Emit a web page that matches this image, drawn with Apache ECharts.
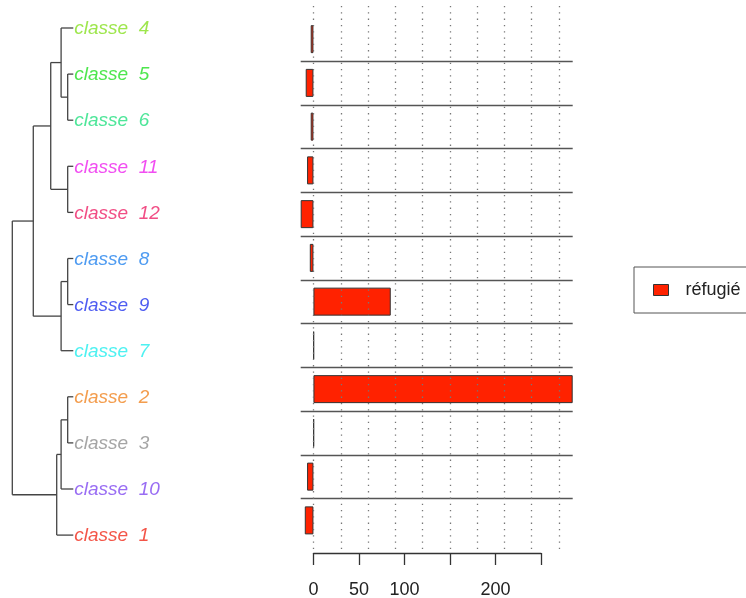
<!DOCTYPE html>
<html><head><meta charset="utf-8">
<script src="https://cdn.jsdelivr.net/npm/echarts@6/dist/echarts.min.js"></script>
<style>html,body{margin:0;padding:0;background:#fff}#c{width:746px;height:598px}</style>
</head><body><div id="c"></div>
<script>
// Leaves in display order (top to bottom)
const leafNames = ['classe  4','classe  5','classe  6','classe  11','classe  12','classe  8','classe  9','classe  7','classe  2','classe  3','classe  10','classe  1'];
const leafColors = ['#86E020','#22E022','#22E080','#EE22EE','#EE2266','#2282EE','#2233EE','#22EEEE','#F08422','#8E8E8E','#8048F0','#F02A1A'];
// hclust-like merges: negative = leaf (display index+1), positive = earlier merge (1-based), then height
const mergeA = [-2, -1, -4, 2, -6, 5, 4, -9, 8, 9, 7];
const mergeB = [-3,  1, -5, 3, -7, -8, 6, -10, -11, -12, 10];
const mergeHeight = [0.092, 0.20, 0.092, 0.37, 0.092, 0.20, 0.656, 0.092, 0.20, 0.272, 1.0];
// Bar values (same order as leaves)
const barCategories = leafNames;
const refugieValues = [-3, -8.5, -3, -7, -14, -4, 85, 0.5, 285, 0.5, -7, -9.5];
const axisLabelsShown = [0, 50, 100, 200];

function buildSegments() {
  const nodeH = [], nodeY = [], segs = [];
  const pos = r => r < 0 ? {h: 0, y: -r - 1} : {h: nodeH[r - 1], y: nodeY[r - 1]};
  mergeA.forEach((a, k) => {
    const b = mergeB[k], h = mergeHeight[k];
    const A = pos(a), B = pos(b);
    segs.push([h, A.y, h, B.y]);
    segs.push([A.h, A.y, h, A.y]);
    segs.push([B.h, B.y, h, B.y]);
    nodeH[k] = h; nodeY[k] = (A.y + B.y) / 2;
  });
  return segs;
}

const FONT = '"Liberation Sans", Arial, Helvetica, sans-serif';
const chart = echarts.init(document.getElementById('c'));
chart.setOption({
  animation: false,
  backgroundColor: '#fff',
  textStyle: {fontFamily: FONT},
  legend: {
    data: [{name: 'réfugié', icon: 'rect'}], orient: 'vertical', left: 634, top: 267,
    borderColor: '#555', borderWidth: 1, borderRadius: 0,
    padding: [14, 40, 14, 19], itemWidth: 15, itemHeight: 11,
    textStyle: {fontSize: 18, color: '#222', fontFamily: FONT, padding: [0, 0, 0, 12]},
    itemStyle: {color: '#FF2200', borderColor: '#333', borderWidth: 1}
  },
  grid: [
    {left: 12.3, top: 28, width: 61, height: 507.1, outerBoundsMode: 'none'},
    {left: 300.7, top: 17.25, width: 272, height: 525, outerBoundsMode: 'none'},
    {left: 313.5, top: 6, width: 245.5, height: 547, outerBoundsMode: 'none'},
    {left: 313.5, top: 6, width: 227.5, height: 547, outerBoundsMode: 'none'}
  ],
  xAxis: [
    {gridIndex: 0, type: 'value', inverse: true, min: 0, max: 1, show: false},
    {gridIndex: 1, type: 'value', min: -14, max: 285, show: false},
    {gridIndex: 2, type: 'value', min: 0, max: 270, interval: 30, z: 5,
     axisLine: {show: false}, axisTick: {show: false}, axisLabel: {show: false},
     splitLine: {show: true, lineStyle: {color: '#777', width: 1.3, type: [1.3, 5]}}},
    {gridIndex: 3, type: 'value', min: 0, max: 250, interval: 50, position: 'bottom',
     axisLine: {show: true, lineStyle: {color: '#333', width: 1.3}},
     axisTick: {show: true, inside: false, length: 12, lineStyle: {color: '#333', width: 1.3}},
     axisLabel: {show: true, margin: 28, fontSize: 18, color: '#222', fontFamily: FONT,
       formatter: v => axisLabelsShown.includes(v) ? String(v) : ''},
     splitLine: {show: false}}
  ],
  yAxis: [
    {gridIndex: 0, type: 'value', inverse: true, min: 0, max: 11, show: false},
    {gridIndex: 1, type: 'category', inverse: true, data: barCategories,
     axisLine: {show: false}, axisTick: {show: false}, axisLabel: {show: false},
     splitLine: {show: true, showMinLine: false, showMaxLine: false, lineStyle: {color: '#555', width: 1.3}}},
    {gridIndex: 2, type: 'value', min: 0, max: 1, show: false},
    {gridIndex: 3, type: 'value', min: 0, max: 1, show: false}
  ],
  series: [
    {
      type: 'custom', xAxisIndex: 0, yAxisIndex: 0, silent: true,
      data: buildSegments(), encode: {x: [0, 2], y: [1, 3]},
      renderItem: (params, api) => {
        const p1 = api.coord([api.value(0), api.value(1)]);
        const p2 = api.coord([api.value(2), api.value(3)]);
        return {type: 'line', shape: {x1: p1[0], y1: p1[1], x2: p2[0], y2: p2[1]},
                style: {stroke: '#444', lineWidth: 1.3}};
      }
    },
    {
      type: 'scatter', xAxisIndex: 0, yAxisIndex: 0, symbolSize: 0, silent: true,
      data: leafNames.map((n, i) => ({value: [0, i], label: {color: leafColors[i]}})),
      label: {show: true, position: 'right', distance: 1, fontSize: 19, fontStyle: 'italic',
              fontFamily: FONT, offset: [0, 1], formatter: p => leafNames[p.dataIndex]}
    },
    {
      name: 'réfugié', type: 'bar', xAxisIndex: 1, yAxisIndex: 1, barWidth: 28,
      data: refugieValues,
      itemStyle: {color: '#FF2200', borderColor: '#333', borderWidth: 1}
    }
  ]
});
</script></body></html>
